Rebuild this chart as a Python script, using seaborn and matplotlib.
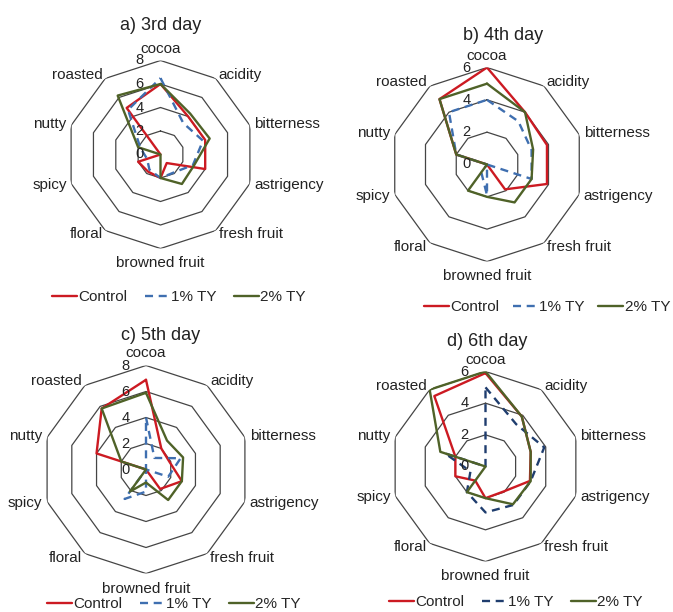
import numpy as np
import pandas as pd
import seaborn as sns
import matplotlib.pyplot as plt
from matplotlib.lines import Line2D

# Sensorik-Attribute (im Uhrzeigersinn, oben beginnend)
attributes = ['cocoa', 'acidity', 'bitterness', 'astrigency', 'fresh fruit',
              'browned fruit', 'floral', 'spicy', 'nutty', 'roasted']
samples = ['Control', '1% TY', '2% TY']

# a) 3rd day
day3_control = [6.0, 4.0, 4.0, 4.0, 0.9, 2.0, 1.8, 2.0, 0.0, 4.9]
day3_ty1 = [6.5, 3.3, 3.8, 2.9, 1.9, 2.0, 1.6, 1.2, 1.8, 4.7]
day3_ty2 = [6.0, 4.3, 4.4, 3.0, 3.1, 2.0, 0.0, 0.0, 2.0, 6.2]

# b) 4th day
day4_control = [6.0, 4.0, 3.9, 3.9, 1.9, 0.0, 0.0, 0.0, 2.0, 5.0]
day4_ty1 = [4.0, 3.3, 2.9, 2.9, 0.0, 1.9, 0.6, 0.0, 2.0, 4.0]
day4_ty2 = [5.0, 4.0, 3.0, 2.9, 2.9, 2.0, 2.0, 0.0, 2.0, 5.0]

# c) 5th day
day5_control = [6.9, 2.0, 1.9, 2.9, 1.85, 0.0, 0.0, 0.0, 4.0, 5.8]
day5_ty1 = [4.0, 1.1, 2.8, 1.8, 0.0, 1.7, 2.8, 0.0, 0.0, 0.0]
day5_ty2 = [5.9, 2.75, 3.0, 2.9, 2.9, 1.0, 2.1, 0.0, 2.0, 5.8]

# d) 6th day
day6_control = [5.9, 3.9, 3.0, 2.95, 1.95, 2.0, 1.1, 2.0, 2.0, 5.5]
day6_ty1 = [5.0, 3.3, 3.9, 3.0, 3.0, 2.9, 2.0, 1.0, 2.7, 0.0]
day6_ty2 = [6.0, 3.9, 3.0, 3.0, 2.95, 2.0, 2.0, 0.0, 3.0, 6.0]

W, H = 673, 612

panels = [
    dict(title='a) 3rd day', data=[day3_control, day3_ty1, day3_ty2], rmax=8,
         center=(160.5, 154.5), R=94, title_xy=(161, 25), legend_xy=(52, 297),
         colspace=1.1, blue='#3F6FB0'),
    dict(title='b) 4th day', data=[day4_control, day4_ty1, day4_ty2], rmax=6,
         center=(487, 164.5), R=97, title_xy=(503, 35), legend_xy=(424, 307),
         colspace=0.85, blue='#3F6FB0'),
    dict(title='c) 5th day', data=[day5_control, day5_ty1, day5_ty2], rmax=8,
         center=(146, 469.5), R=104, title_xy=(161, 335), legend_xy=(47, 604),
         colspace=1.1, blue='#3F6FB0'),
    dict(title='d) 6th day', data=[day6_control, day6_ty1, day6_ty2], rmax=6,
         center=(485.5, 466.5), R=95, title_xy=(487, 341), legend_xy=(389, 602),
         colspace=1.1, blue='#1F3D6E'),
]

red = '#CC1A22'
green = '#4F6228'
ring_color = '#454545'

sns.set_theme(style='white')
plt.rcParams['font.family'] = ['Liberation Sans', 'DejaVu Sans']

n = len(attributes)
angles = np.linspace(0, 2 * np.pi, n + 1)  # letzter Punkt schließt das Polygon

fig = plt.figure(figsize=(W / 100, H / 100), dpi=100)

for p in panels:
    cx, cy = p['center']
    R = p['R']
    ax = fig.add_axes([(cx - R) / W, 1 - (cy + R) / H, 2 * R / W, 2 * R / H],
                      projection='polar')
    ax.set_theta_zero_location('N')
    ax.set_theta_direction(-1)
    ax.patch.set_alpha(0)

    # Zehneck-Gitterlinien
    for v in range(2, p['rmax'] + 1, 2):
        ax.plot(angles, [v] * (n + 1), color=ring_color, lw=0.9, zorder=1)

    rows = []
    for name, vals in zip(samples, p['data']):
        closed = list(vals) + [vals[0]]
        for i in range(n + 1):
            rows.append({'sample': name, 'angle': angles[i], 'score': closed[i]})
    df = pd.DataFrame(rows)

    pal = {'Control': red, '1% TY': p['blue'], '2% TY': green}
    dash_map = {'Control': '', '1% TY': (3.4, 2.4), '2% TY': ''}
    sns.lineplot(data=df, x='angle', y='score', hue='sample', style='sample',
                 hue_order=samples, style_order=samples,
                 palette=pal, dashes=dash_map, sort=False, estimator=None,
                 lw=1.7, ax=ax, legend=False, zorder=3)

    ax.set_ylim(0, p['rmax'])
    ax.set_xlabel('')
    ax.set_ylabel('')
    ax.grid(False)
    ax.set_xticks([])
    ax.set_yticks([])
    ax.spines['polar'].set_visible(False)

    # Achsenbeschriftung (Werte)
    for v in range(0, p['rmax'] + 1, 2):
        ax.annotate(str(v), xy=(0, v), xytext=(-12, 0), textcoords='offset points',
                    ha='right', va='center', fontsize=10.5, color='#222222')

    # Attributnamen
    for i, name in enumerate(attributes):
        th = angles[i]
        s, c = np.sin(th), np.cos(th)
        ha = 'left' if s > 0.1 else ('right' if s < -0.1 else 'center')
        if c > 0.99:
            va, r = 'bottom', p['rmax'] * 1.05
        elif c < -0.99:
            va, r = 'top', p['rmax'] * 1.08
        else:
            va, r = 'center', p['rmax'] * 1.05
        ax.text(th, r, name, ha=ha, va=va, fontsize=11, color='#222222')

    fig.text(p['title_xy'][0] / W, 1 - p['title_xy'][1] / H, p['title'],
             ha='center', va='center', fontsize=13, color='#222222')

    handles = [Line2D([], [], color=red, lw=1.7),
               Line2D([], [], color=p['blue'], lw=1.7, dashes=(3.4, 2.4)),
               Line2D([], [], color=green, lw=1.7)]
    fig.legend(handles, samples, loc='center left',
               bbox_to_anchor=(p['legend_xy'][0] / W, 1 - p['legend_xy'][1] / H),
               ncol=3, frameon=False, fontsize=11, borderpad=0, borderaxespad=0,
               handlelength=1.65, handletextpad=0.1, columnspacing=p['colspace'])

fig.savefig('out.png', dpi=100, facecolor='white')
plt.close(fig)
